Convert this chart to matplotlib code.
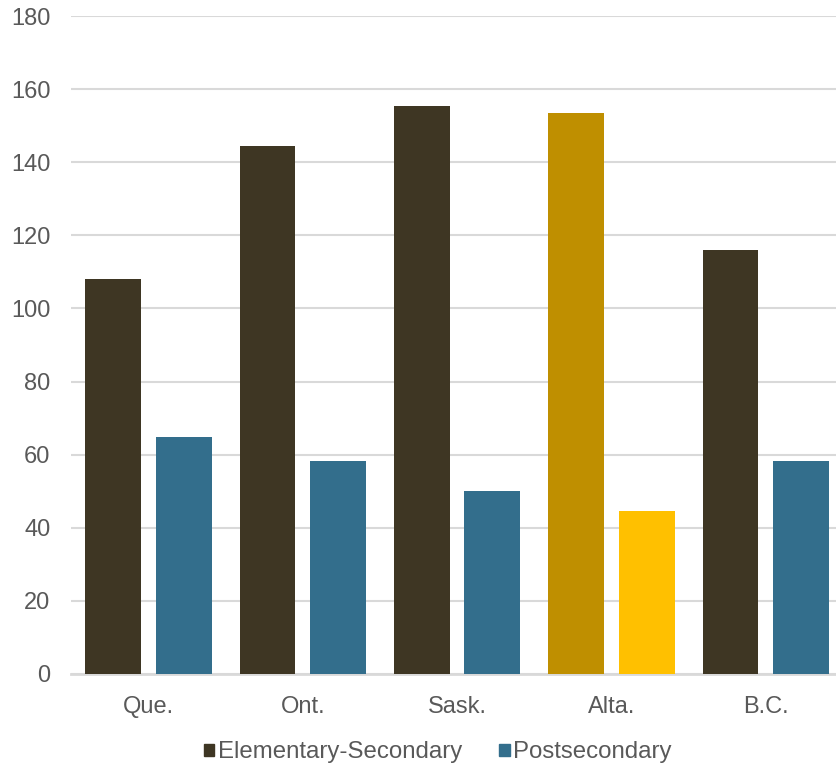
import numpy as np
import matplotlib.pyplot as plt
from matplotlib.patches import Patch

provinces = ["Que.", "Ont.", "Sask.", "Alta.", "B.C."]
elementary = [108, 144.5, 155.3, 153.4, 116]
postsecondary = [64.8, 58.3, 50, 44.6, 58.3]

elem_colors = ["#3e3623", "#3e3623", "#3e3623", "#bf8f00", "#3e3623"]
post_colors = ["#336e8c", "#336e8c", "#336e8c", "#ffc000", "#336e8c"]

plt.rcParams["font.family"] = ["Liberation Sans", "DejaVu Sans"]

fig = plt.figure(figsize=(8.37, 7.67), dpi=100)
ax = fig.add_axes([0.0852, 0.1213, 0.9218, 0.8577])

x = np.arange(len(provinces))
w = 0.361
off = 0.2285
ax.bar(x - off, elementary, w, color=elem_colors, zorder=3)
ax.bar(x + off, postsecondary, w, color=post_colors, zorder=3)

ax.set_xlim(-0.5, len(provinces) - 0.5)
ax.set_ylim(0, 180)
ax.set_yticks(range(0, 181, 20))
ax.set_xticks(x)
ax.set_xticklabels(provinces)
ax.yaxis.grid(True, color="#d9d9d9", linewidth=1.5, zorder=0)
ax.tick_params(axis="both", length=0, labelsize=17, colors="#595959")
ax.tick_params(axis="x", pad=16)
ax.tick_params(axis="y", pad=15)
for s in ["top", "right", "left"]:
    ax.spines[s].set_visible(False)
ax.spines["bottom"].set_color("#d9d9d9")
ax.spines["bottom"].set_linewidth(2)

handles = [Patch(color="#3e3623"), Patch(color="#336e8c")]
fig.legend(handles, ["Elementary-Secondary", "Postsecondary"],
           loc="center", bbox_to_anchor=(0.523, 0.019), ncol=2, frameon=False,
           fontsize=17.3, handlelength=0.43, handleheight=0.43, handletextpad=0.15,
           columnspacing=1.55, labelcolor="#595959")

fig.savefig("out.png", dpi=100)
